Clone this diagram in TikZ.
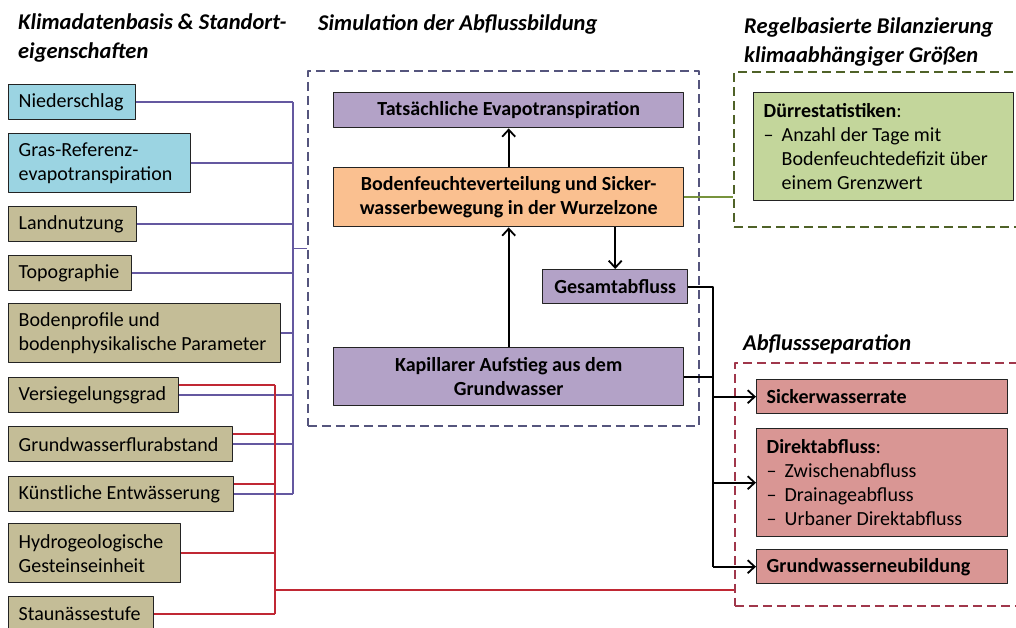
\documentclass[tikz,border=0pt]{standalone}
\usepackage{fontspec}
\setmainfont{Carlito}
\usetikzlibrary{arrows.meta}
\definecolor{fblau}{RGB}{155,212,226}
\definecolor{foliv}{RGB}{196,189,151}
\definecolor{flila}{RGB}{179,162,199}
\definecolor{forange}{RGB}{250,192,144}
\definecolor{fgruen}{RGB}{195,214,155}
\definecolor{frot}{RGB}{217,150,148}
\definecolor{llila}{RGB}{100,88,160}
\definecolor{lrot}{RGB}{192,40,52}
\definecolor{lgruen}{RGB}{119,147,60}
\definecolor{rsim}{RGB}{85,85,125}
\definecolor{rgruen}{RGB}{79,98,40}
\definecolor{rrot}{RGB}{160,55,75}
\definecolor{rand}{RGB}{35,35,35}
\def\strich{\makebox[18pt][l]{–}}
\def\einr{\hspace*{18pt}}
\begin{document}
\begin{tikzpicture}[x=1pt,y=-1pt,>={Straight Barb[length=7pt,width=13pt]},line join=round,
	kasten/.style={draw=rand,line width=1.4pt,anchor=north west,inner xsep=10pt,inner ysep=0pt,font=\fontsize{20}{24}\selectfont},
	lbox/.style={kasten,align=flush left,text width=#1},
	mbox/.style={kasten,align=center,font=\fontsize{20}{24}\selectfont\bfseries},
	rahmen/.style={draw=#1,line width=1.8pt,dash pattern=on 9pt off 5pt,anchor=north west,inner sep=0pt},
	titel/.style={anchor=north west,align=flush left,inner sep=0pt,font=\fontsize{22.5}{29}\selectfont\bfseries\itshape},
	lila/.style={draw=llila,line width=1.6pt},
	rot/.style={draw=lrot,line width=1.6pt},
	gruen/.style={draw=lgruen,line width=1.6pt},
	schwarz/.style={draw=black,line width=1.8pt}]
	% Rahmen des Bildes
	\useasboundingbox (0,0) rectangle (1016,627);
	% Ueberschriften
	\node[titel] (t1) at (18,14) {Klimadatenbasis \& Standort-\\eigenschaften};
	\node[titel] (t2) at (318,14) {Simulation der Abflussbildung};
	\node[titel] (t3) at (744,18) {Regelbasierte Bilanzierung\\klimaabhängiger Größen};
	\node[titel] (t4) at (743,334) {Abflussseparation};
	% gestrichelte Rahmen
	\node[rahmen=rsim,minimum width=391pt,minimum height=355pt] (simfr) at (307,70) {};
	\node[rahmen=rgruen,minimum width=300pt,minimum height=155pt] (duerrfr) at (733,71) {};
	\node[rahmen=rrot,minimum width=300pt,minimum height=243pt] (sepfr) at (734,362) {};
	% linke Spalte
	\node[lbox=107pt,fill=fblau,minimum height=35pt] (nied) at (8,84) {Niederschlag};
	\node[lbox=162pt,fill=fblau,minimum height=59pt] (gras) at (8,133) {Gras-Referenz-\\evapotranspiration};
	\node[lbox=108pt,fill=foliv,minimum height=35pt] (land) at (8,206) {Landnutzung};
	\node[lbox=103pt,fill=foliv,minimum height=35pt] (topo) at (8,255) {Topographie};
	\node[lbox=252pt,fill=foliv,minimum height=59pt] (bodpr) at (8,303) {Bodenprofile und\\bodenphysikalische Parameter};
	\node[lbox=150pt,fill=foliv,minimum height=35pt] (versieg) at (8,377) {Versiegelungsgrad};
	\node[lbox=204pt,fill=foliv,minimum height=35pt] (gwfa) at (8,426) {Grundwasserflurabstand};
	\node[lbox=205pt,fill=foliv,minimum height=35pt] (kuenst) at (8,476) {Künstliche Entwässerung};
	\node[lbox=152pt,fill=foliv,minimum height=59pt] (hydro) at (8,523) {Hydrogeologische\\Gesteinseinheit};
	\node[lbox=125pt,fill=foliv,minimum height=34pt] (stau) at (8,596) {Staunässestufe};
	% Mitte
	\node[mbox,fill=flila,minimum width=350pt,minimum height=35pt] (tats) at (333,92) {Tatsächliche Evapotranspiration};
	\node[mbox,fill=forange,minimum width=350pt,minimum height=59pt] (bfv) at (333,167) {Bodenfeuchteverteilung und Sicker-\\wasserbewegung in der Wurzelzone};
	\node[mbox,fill=flila,minimum width=145pt,minimum height=34pt] (gesamt) at (542,269) {Gesamtabfluss};
	\node[mbox,fill=flila,minimum width=350pt,minimum height=58pt] (kap) at (333,347) {Kapillarer Aufstieg aus dem\\Grundwasser};
	% rechts
	\node[lbox=240pt,fill=fgruen,minimum height=108pt] (duerre) at (753,92) {\textbf{Dürrestatistiken}:\\\strich Anzahl der Tage mit\\\einr Bodenfeuchtedefizit über\\\einr einem Grenzwert};
	\node[lbox=231pt,fill=frot,minimum height=34pt] (sicker) at (756,379) {\textbf{Sickerwasserrate}};
	\node[lbox=231pt,fill=frot,minimum height=108pt] (direkt) at (756,428) {\textbf{Direktabfluss}:\\\strich Zwischenabfluss\\\strich Drainageabfluss\\\strich Urbaner Direktabfluss};
	\node[lbox=231pt,fill=frot,minimum height=34pt] (gwn) at (756,549) {\textbf{Grundwasserneubildung}};
	% Sammelschienen
	\coordinate (pbus) at (293,0);
	\coordinate (rbus) at (275,0);
	\coordinate (split) at (713,0);
	\coordinate (rknot) at (275,590);
	% lila Verbindungen
	\foreach \n in {nied,gras,land,topo,bodpr,versieg,gwfa,kuenst}
		\draw[lila] (\n.east) -- (\n.east -| pbus);
	\draw[lila] (nied.east -| pbus) -- (kuenst.east -| pbus);
	\draw[lila] (simfr.west -| pbus) -- (simfr.west);
	% rote Verbindungen
	\foreach \n in {versieg,gwfa,kuenst}
		\draw[rot] ([yshift=10pt]\n.east) -- ([yshift=10pt]\n.east -| rbus);
	\foreach \n in {hydro,stau}
		\draw[rot] (\n.east) -- (\n.east -| rbus);
	\draw[rot] ([yshift=10pt]versieg.east -| rbus) -- (stau.east -| rbus);
	\draw[rot] (rknot) -- (rknot -| sepfr.west);
	% gruene Verbindung
	\draw[gruen] (bfv.east) -- (bfv.east -| duerrfr.west);
	% Pfeile
	\draw[schwarz,->] (bfv.north) -- (tats.south);
	\draw[schwarz,->] (kap.north) -- (bfv.south);
	\draw[schwarz,->] (gesamt.north |- bfv.south) -- (gesamt.north);
	\draw[schwarz] (gesamt.east) -- (gesamt.east -| split) -- (gwn.west -| split);
	\draw[schwarz] (kap.east) -- (kap.east -| split);
	\foreach \n in {sicker,direkt,gwn}
		\draw[schwarz,->] (\n.west -| split) -- (\n.west);
\end{tikzpicture}
\end{document}
